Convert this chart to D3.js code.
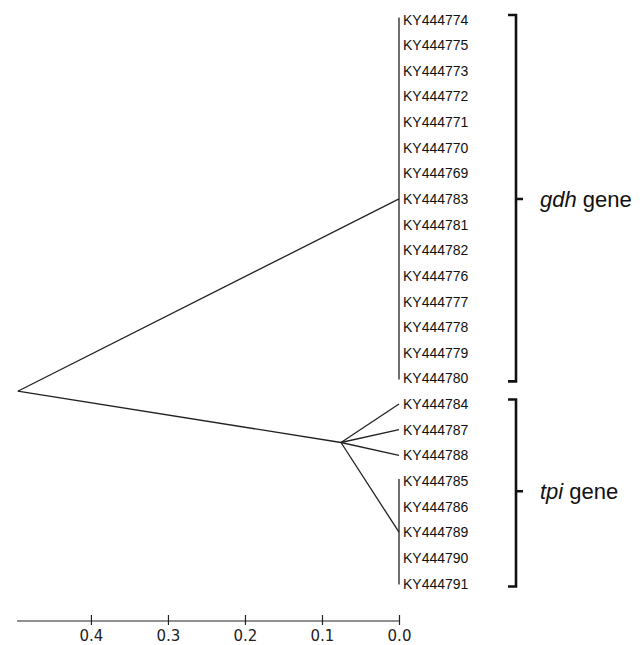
<!DOCTYPE html>
<html lang="en">
<head>
<meta charset="utf-8" />
<title>Dendrogram gdh / tpi</title>
<style>
  body { margin: 0; background: #fff; }
  svg text { font-family: "Liberation Sans", Arial, sans-serif; fill: #111; }
  .leaf { font-size: 14px; }
  .axis text { font-size: 15px; font-family: "DejaVu Sans", sans-serif; fill: #222; }
  .axis path, .axis line { stroke: #222; stroke-width: 1.2; }
  .branch { stroke: #222; stroke-width: 1.3; fill: none; }
  .bracket { stroke: #111; stroke-width: 2.6; fill: none; }
  .group-label { font-size: 22px; }
</style>
<script src="https://cdn.jsdelivr.net/npm/d3@7"></script>
</head>
<body>
<script>
// leaf names, top to bottom
var leaves = ["KY444774", "KY444775", "KY444773", "KY444772", "KY444771", "KY444770",
              "KY444769", "KY444783", "KY444781", "KY444782", "KY444776", "KY444777",
              "KY444778", "KY444779", "KY444780",
              "KY444784", "KY444787", "KY444788", "KY444785", "KY444786", "KY444789",
              "KY444790", "KY444791"];

// internal nodes: distance from leaves, row position (leaf index units)
var nodeNames = ["root", "gdh", "tpi", "tpiB"];
var nodeDist  = [0.495, 0, 0.0753, 0];
var nodeRow   = [14.5, 7, 16.5, 20];

// branches: [from node, to node or leaf index]
var branches = [["root", "gdh"], ["root", "tpi"], ["tpi", 15], ["tpi", 16], ["tpi", 17], ["tpi", "tpiB"]];

// zero-length clusters drawn as a vertical bar: [first row, last row]
var clusterBars = [[0, 14], [18, 22]];

// bracketed groups
var groupNames = ["gdh", "tpi"];
var groupRows  = [[0, 14], [15, 22]];
var groupMid   = [7, 18.4];

var axisTicks = [0.4, 0.3, 0.2, 0.1, 0.0];

var width = 644, height = 645;

var svg = d3.select("body").append("svg")
    .attr("width", width)
    .attr("height", height);

var x = d3.scaleLinear().domain([0.496, 0]).range([17, 399]);
var y = d3.scaleLinear().domain([0, 22]).range([19.5, 583.5]);

function nodePos(n) {
  if (typeof n === "number") return [x(0), y(n)];
  var i = nodeNames.indexOf(n);
  return [x(nodeDist[i]), y(nodeRow[i])];
}

// branches
svg.selectAll("line.branch").data(branches).enter()
  .append("line")
  .attr("class", "branch")
  .attr("x1", function(d) { return nodePos(d[0])[0]; })
  .attr("y1", function(d) { return nodePos(d[0])[1]; })
  .attr("x2", function(d) { return nodePos(d[1])[0]; })
  .attr("y2", function(d) { return nodePos(d[1])[1]; });

// zero length cluster bars
svg.selectAll("line.bar").data(clusterBars).enter()
  .append("line")
  .attr("class", "branch")
  .attr("x1", x(0)).attr("x2", x(0))
  .attr("y1", function(d) { return y(d[0]) - 2; })
  .attr("y2", function(d) { return y(d[1]) + 1; });

// leaf labels
svg.selectAll("text.leaf").data(leaves).enter()
  .append("text")
  .attr("class", "leaf")
  .attr("x", x(0) + 4)
  .attr("y", function(d, i) { return y(i); })
  .attr("dy", "0.36em")
  .text(function(d) { return d; });

// brackets
var bx = 516;
groupNames.forEach(function(g, i) {
  var top = y(groupRows[i][0]) - 4.5, bot = y(groupRows[i][1]) + 3, mid = y(groupMid[i]);
  var p = d3.path();
  p.moveTo(bx - 8, top);
  p.lineTo(bx, top);
  p.lineTo(bx, bot);
  p.lineTo(bx - 8, bot);
  p.moveTo(bx, mid);
  p.lineTo(bx + 7, mid);
  svg.append("path").attr("class", "bracket").attr("d", p.toString());

  var t = svg.append("text").attr("class", "group-label")
      .attr("x", bx + 24).attr("y", mid).attr("dy", "0.36em");
  t.append("tspan").style("font-style", "italic").text(g);
  t.append("tspan").text(" gene");
});

// scale axis
var axis = svg.append("g")
    .attr("class", "axis")
    .attr("transform", "translate(0,621)")
    .call(d3.axisBottom(x).tickValues(axisTicks).tickFormat(d3.format(".1f")).tickSize(0).tickPadding(0));

axis.select(".domain").attr("d", "M" + x(0.496) + ",0H" + x(0));
axis.selectAll(".tick line").attr("y1", -6).attr("y2", 4);
axis.selectAll(".tick text").attr("y", 20).attr("dy", 0);
</script>
</body>
</html>
